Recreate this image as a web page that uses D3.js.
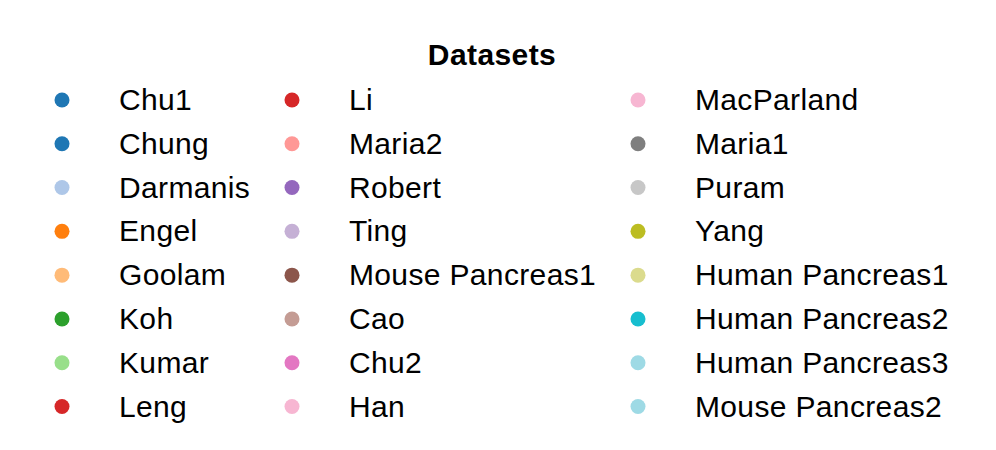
<!DOCTYPE html>
<meta charset="utf-8">
<style>
body { margin: 0; background: #fff; }
svg, text { font-family: 'Liberation Sans', Arial, sans-serif; }
</style>
<body>
<script src="https://d3js.org/d3.v7.min.js"></script>
<script>

// legend entries, in column order
var datasets = ["Chu1", "Chung", "Darmanis", "Engel", "Goolam", "Koh", "Kumar", "Leng",
                "Li", "Maria2", "Robert", "Ting", "Mouse Pancreas1", "Cao", "Chu2", "Han",
                "MacParland", "Maria1", "Puram", "Yang", "Human Pancreas1", "Human Pancreas2",
                "Human Pancreas3", "Mouse Pancreas2"];

var colours = ["#1f77b4", "#1f77b4", "#aec7e8", "#ff7f0e", "#ffbb78", "#2ca02c", "#98df8a", "#d62728",
               "#d62728", "#ff9896", "#9467bd", "#c5b0d5", "#8c564b", "#c49c94", "#e377c2", "#f7b6d2",
               "#f7b6d2", "#7f7f7f", "#c7c7c7", "#bcbd22", "#dbdb8d", "#17becf", "#9edae5", "#9edae5"];

var title = "Datasets";
var perCol = 8;

var width = 996, height = 450;

var svg = d3.select("body").append("svg")
    .attr("width", width)
    .attr("height", height);

var color = d3.scaleOrdinal().domain(datasets).range(colours);

// column = where the dot goes
var colX = d3.scaleOrdinal().domain([0, 1, 2]).range([62, 292, 638]);
var rowY = d3.scalePoint().domain(d3.range(perCol)).range([100, 406.5]);

svg.append("text")
    .attr("x", 492)
    .attr("y", 65)
    .attr("text-anchor", "middle")
    .style("font-weight", "bold")
    .style("font-size", "30px")
    .style("letter-spacing", "0.4px")
    .text(title);

var item = svg.selectAll("g.item")
    .data(datasets)
    .enter().append("g")
    .attr("class", "item")
    .attr("transform", function(d, i) {
        return "translate(" + colX(Math.floor(i / perCol)) + "," + rowY(i % perCol) + ")";
    });

item.append("circle")
    .attr("r", 7.5)
    .attr("fill", function(d) { return color(d); });

item.append("text")
    .attr("x", 57)
    .attr("y", 10)
    .style("font-size", "30px")
    .style("letter-spacing", "0.35px")
    .style("fill", "#000")
    .text(function(d) { return d; });

</script>
</body>
